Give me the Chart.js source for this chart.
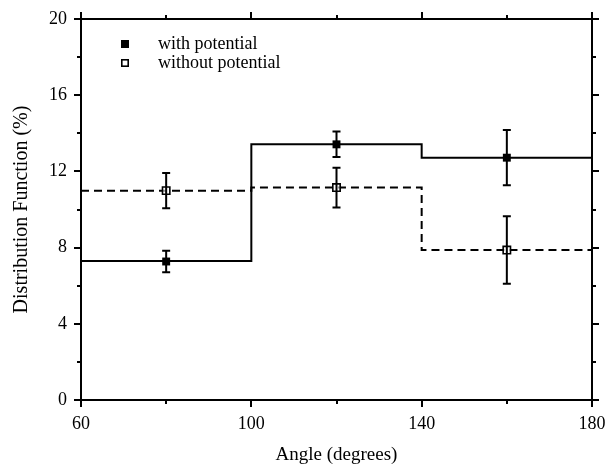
<!DOCTYPE html>
<html>
<head>
<meta charset="utf-8">
<script src="https://cdn.jsdelivr.net/npm/chart.js@4/dist/chart.umd.min.js"></script>
<style>
  html, body { margin: 0; padding: 0; background: #fff; }
  #wrap { width: 607px; height: 466px; position: relative; }
</style>
</head>
<body>
<div id="wrap"><canvas id="c"></canvas></div>
<script>
// ---- data ----
const binEdges = [60, 100, 140, 180];
const withLevels = [7.3, 13.42, 12.72];
const withoutLevels = [10.99, 11.15, 7.87];
const pointAngles = [80, 120, 160];
const withValues = [7.27, 13.42, 12.72];
const withErrors = [0.56, 0.67, 1.45];
const withoutValues = [10.99, 11.15, 7.87];
const withoutErrors = [0.93, 1.04, 1.77];
const xTickValues = [60, 100, 140, 180];
const yTickValues = [0, 4, 8, 12, 16, 20];
const seriesNames = ['with potential', 'without potential'];

function stepData(levels) {
  const pts = binEdges.slice(0, levels.length).map((x, i) => ({x: x, y: levels[i]}));
  pts.push({x: binEdges[levels.length], y: levels[levels.length - 1]});
  return pts;
}
function pointData(vals) {
  return pointAngles.map((x, i) => ({x: x, y: vals[i]}));
}

const FONT = 'Liberation Serif';

const errorBarPlugin = {
  id: 'errorBars',
  afterDatasetsDraw(chart) {
    const ctx = chart.ctx;
    const xs = chart.scales.x, ys = chart.scales.y;
    ctx.save();
    ctx.strokeStyle = '#000';
    ctx.lineWidth = 2;
    chart.data.datasets.forEach(ds => {
      if (!ds.errors) return;
      ds.data.forEach((p, i) => {
        const e = ds.errors[i];
        const px = xs.getPixelForValue(p.x);
        const y1 = ys.getPixelForValue(p.y + e);
        const y2 = ys.getPixelForValue(p.y - e);
        ctx.beginPath();
        ctx.moveTo(px, y1); ctx.lineTo(px, y2);
        ctx.moveTo(px - 4, y1); ctx.lineTo(px + 4, y1);
        ctx.moveTo(px - 4, y2); ctx.lineTo(px + 4, y2);
        ctx.stroke();
      });
    });
    ctx.restore();
  }
};

const frameTickPlugin = {
  id: 'frameTicks',
  afterDraw(chart) {
    const ctx = chart.ctx;
    const a = chart.chartArea;
    const xs = chart.scales.x, ys = chart.scales.y;
    ctx.save();
    ctx.strokeStyle = '#000';
    ctx.lineWidth = 2;
    ctx.strokeRect(a.left, a.top, a.right - a.left, a.bottom - a.top);
    ctx.beginPath();
    for (let v = xs.min; v <= xs.max; v += 20) {
      const major = ((v - xs.min) % 40) === 0;
      const len = major ? 7 : 4;
      const px = Math.round(xs.getPixelForValue(v));
      ctx.moveTo(px, a.bottom); ctx.lineTo(px, a.bottom + len);
      ctx.moveTo(px, a.top); ctx.lineTo(px, a.top - len);
    }
    for (let v = ys.min; v <= ys.max; v += 2) {
      const major = (v % 4) === 0;
      const len = major ? 7 : 4;
      const py = Math.round(ys.getPixelForValue(v));
      ctx.moveTo(a.left, py); ctx.lineTo(a.left - len, py);
      ctx.moveTo(a.right, py); ctx.lineTo(a.right + len, py);
    }
    ctx.stroke();

    // legend
    const mx = a.left + 44, tx = a.left + 77;
    ctx.fillStyle = '#000';
    ctx.fillRect(mx - 4, 40, 8, 8);
    ctx.lineWidth = 1.6;
    ctx.strokeRect(mx - 3.2, 59.8, 6.4, 6.4);
    ctx.font = '18px "' + FONT + '"';
    ctx.textBaseline = 'alphabetic';
    ctx.textAlign = 'left';
    ctx.fillText(seriesNames[0], tx, 49);
    ctx.fillText(seriesNames[1], tx, 67.5);
    ctx.restore();
  }
};

new Chart(document.getElementById('c'), {
  type: 'scatter',
  data: {
    datasets: [
      {
        label: seriesNames[0] + ' points',
        data: pointData(withValues),
        errors: withErrors,
        showLine: false,
        pointStyle: 'rect',
        pointRadius: 5.6,
        pointBackgroundColor: '#000',
        pointBorderColor: '#000',
        pointBorderWidth: 0
      },
      {
        label: seriesNames[1] + ' points',
        data: pointData(withoutValues),
        errors: withoutErrors,
        showLine: false,
        pointStyle: 'rect',
        pointRadius: 5.2,
        pointBackgroundColor: 'rgba(255,255,255,0.6)',
        pointBorderColor: '#000',
        pointBorderWidth: 1.6
      },
      {
        label: seriesNames[0],
        data: stepData(withLevels),
        showLine: true,
        stepped: 'before',
        borderColor: '#000',
        borderWidth: 2,
        pointRadius: 0,
        fill: false
      },
      {
        label: seriesNames[1],
        data: stepData(withoutLevels),
        showLine: true,
        stepped: 'before',
        borderColor: '#000',
        borderWidth: 2,
        borderDash: [8, 5],
        pointRadius: 0,
        fill: false
      }
    ]
  },
  options: {
    responsive: true,
    maintainAspectRatio: false,
    animation: false,
    events: [],
    layout: { padding: { left: 0, right: 15, top: 19, bottom: 0 } },
    plugins: { legend: { display: false }, tooltip: { enabled: false } },
    scales: {
      x: {
        type: 'linear',
        min: 60, max: 180,
        afterBuildTicks: (s) => { s.ticks = xTickValues.map(v => ({value: v})); },
        afterFit: (s) => { s.height = 66; s.paddingLeft = 0; s.paddingRight = 0; },
        grid: { display: false, drawTicks: false },
        border: { display: false },
        ticks: { color: '#000', font: { family: FONT, size: 18 }, padding: 13, maxRotation: 0 },
        title: { display: true, text: 'Angle (degrees)', color: '#000', font: { family: FONT, size: 19 }, padding: { top: 0, bottom: 0 } }
      },
      y: {
        type: 'linear',
        min: 0, max: 20,
        afterBuildTicks: (s) => { s.ticks = yTickValues.map(v => ({value: v})); },
        afterFit: (s) => { s.width = 81; s.paddingTop = 0; s.paddingBottom = 0; },
        grid: { display: false, drawTicks: false },
        border: { display: false },
        ticks: { color: '#000', font: { family: FONT, size: 18 }, padding: 14 },
        title: { display: true, text: 'Distribution Function (%)', color: '#000', font: { family: FONT, size: 20 }, padding: { top: 10, bottom: 0 } }
      }
    }
  },
  plugins: [errorBarPlugin, frameTickPlugin]
});
</script>
</body>
</html>
